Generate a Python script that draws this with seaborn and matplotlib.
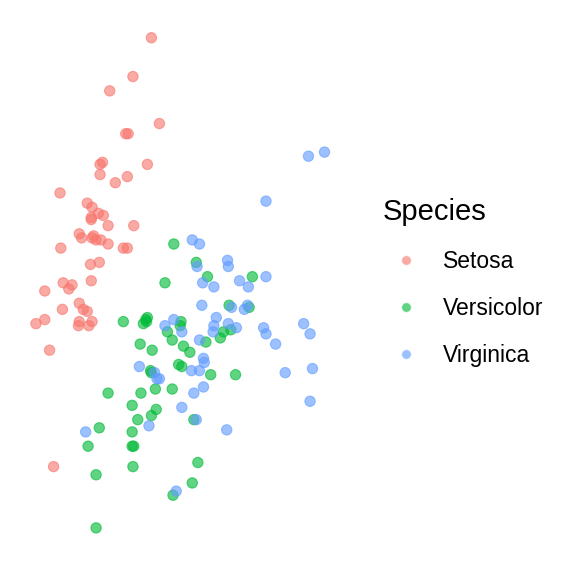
import pandas as pd
import numpy as np
import matplotlib
matplotlib.use('Agg')
import matplotlib.pyplot as plt
import seaborn as sns

# sepal length / sepal width (points are jittered)
setosa_len = [5.75, 5.52, 5.23, 5.85, 5.43, 5.46, 5.11, 5.14, 5.70, 5.11,
              5.45, 5.30, 4.61, 4.95, 5.01, 5.09, 5.15, 5.00, 5.00, 5.21,
              5.53, 4.85, 4.88, 5.01, 5.06, 5.12, 5.21, 4.62, 5.40, 5.45,
              4.99, 5.10, 5.00, 4.65, 4.76, 4.42, 4.72, 4.85, 4.64, 4.90,
              4.95, 4.31, 4.42, 4.85, 4.84, 4.97, 5.01, 4.48, 4.53, 5.03]
setosa_wid = [4.40, 4.21, 4.14, 3.98, 3.93, 3.93, 3.78, 3.79, 3.78, 3.73,
              3.72, 3.69, 3.64, 3.59, 3.57, 3.54, 3.53, 3.52, 3.51, 3.48,
              3.48, 3.44, 3.42, 3.42, 3.41, 3.41, 3.39, 3.37, 3.37, 3.37,
              3.29, 3.30, 3.21, 3.20, 3.19, 3.16, 3.17, 3.10, 3.07, 3.07,
              3.06, 3.00, 3.02, 3.01, 2.99, 2.99, 3.01, 2.87, 2.30, 3.43]

versi_len = [6.03, 5.92, 6.31, 6.45, 7.01, 5.40, 5.68, 5.70, 5.65, 5.95,
             6.01, 5.61, 5.76, 6.09, 5.74, 5.75, 5.80, 6.01, 5.21, 5.62,
             5.51, 5.81, 5.75, 5.58, 6.72, 6.97, 6.65, 6.74, 6.61, 6.43,
             6.15, 6.23, 6.13, 6.49, 6.80, 6.11, 6.28, 5.10, 4.96, 5.51,
             5.51, 5.53, 5.52, 5.06, 6.02, 5.06, 6.33, 6.26, 6.12, 5.69]
versi_wid = [3.39, 3.20, 3.30, 3.23, 3.23, 3.01, 3.02, 3.03, 3.00, 2.96,
             2.92, 2.90, 2.87, 2.80, 2.77, 2.76, 2.68, 2.68, 2.66, 2.66,
             2.60, 2.58, 2.55, 2.53, 3.09, 3.08, 2.96, 2.97, 2.93, 2.91,
             2.89, 2.86, 2.79, 2.75, 2.75, 2.99, 2.53, 2.49, 2.40, 2.47,
             2.40, 2.40, 2.30, 2.26, 2.16, 2.00, 2.32, 2.22, 3.01, 3.01]

virg_len = [7.91, 7.71, 7.18, 6.26, 6.35, 6.32, 6.70, 6.71, 7.18, 6.85,
            6.96, 6.39, 6.53, 6.38, 6.75, 6.95, 6.91, 6.56, 6.53, 6.52,
            6.71, 6.81, 6.13, 7.15, 7.18, 7.30, 7.65, 7.73, 6.35, 6.40,
            6.41, 6.25, 6.35, 7.42, 7.76, 6.40, 6.28, 7.73, 6.13, 6.31,
            6.03, 5.92, 5.60, 5.79, 5.82, 5.85, 4.93, 5.72, 6.06, 6.69]
virg_wid = [3.84, 3.82, 3.60, 3.41, 3.39, 3.28, 3.31, 3.28, 3.23, 3.21,
            3.18, 3.20, 3.18, 3.09, 3.08, 3.09, 3.07, 3.03, 2.99, 2.96,
            3.00, 2.98, 2.96, 2.98, 2.95, 2.90, 3.00, 2.95, 2.92, 2.83,
            2.81, 2.77, 2.77, 2.76, 2.78, 2.69, 2.66, 2.62, 2.59, 2.53,
            3.02, 2.99, 2.79, 2.76, 2.73, 2.73, 2.47, 2.50, 2.18, 2.48]

species = ['Setosa', 'Versicolor', 'Virginica']
colors = ['#F8766D', '#00BA38', '#619CFF']

df = pd.DataFrame({
    'Sepal.Length': setosa_len + versi_len + virg_len,
    'Sepal.Width': setosa_wid + versi_wid + virg_wid,
    'Species': ['Setosa'] * len(setosa_len) + ['Versicolor'] * len(versi_len)
               + ['Virginica'] * len(virg_len),
})

sns.set_style('white')
plt.rcParams['font.family'] = ['Liberation Sans', 'DejaVu Sans']
plt.rcParams['text.color'] = 'black'

fig = plt.figure(figsize=(5.76, 5.76), dpi=100)
ax = fig.add_axes([0.036, 0.041, 0.551, 0.936])
sns.scatterplot(data=df, x='Sepal.Length', y='Sepal.Width', hue='Species',
                hue_order=species, palette=colors, s=55, alpha=0.62,
                linewidth=0.8, ax=ax)
for c in ax.collections:
    c.set_edgecolor(c.get_facecolor())

ax.set_xlim(4.12, 8.08)
ax.set_ylim(1.88, 4.52)
ax.set_axis_off()

handles, labels = ax.get_legend_handles_labels()
ax.get_legend().remove()
leg = fig.legend(handles, labels, title='Species', loc='center left',
                 bbox_to_anchor=(0.649, 0.509), frameon=False, fontsize=16.5,
                 title_fontsize=21, labelspacing=1.05, handletextpad=0.6,
                 handlelength=2.0, borderaxespad=0, markerscale=0.95)
leg._legend_box.align = 'left'
for t in leg.get_texts():
    t.set_color('black')
leg.get_title().set_color('black')

plt.savefig('out.png', dpi=100)
